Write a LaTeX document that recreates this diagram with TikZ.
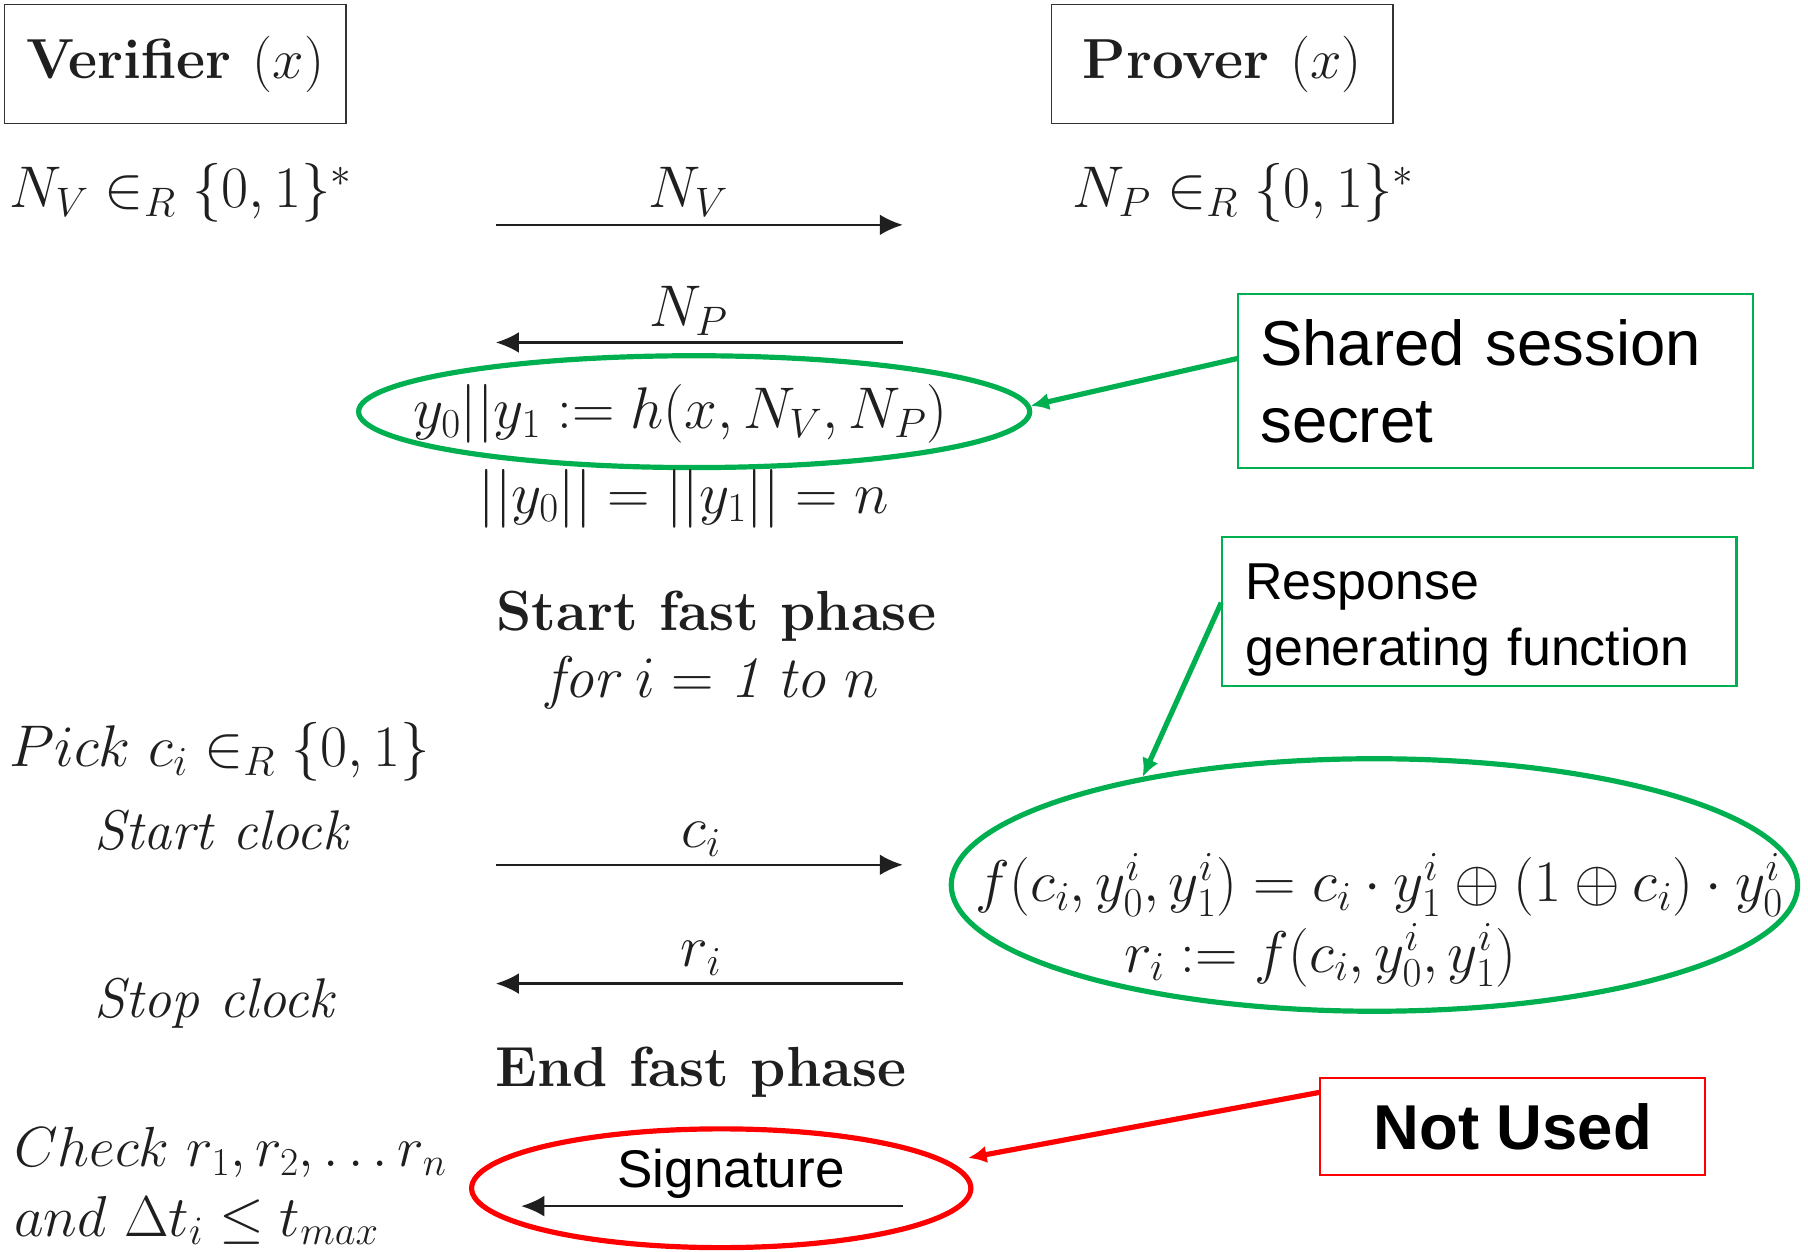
\RequirePackage{fix-cm}
\documentclass[tikz,border=0pt]{standalone}
\usepackage{amsmath}
\usepackage{fontspec}
\newfontfamily\callfont{Liberation Sans}
\usetikzlibrary{shapes.geometric,arrows.meta}

\definecolor{pgreen}{RGB}{0,176,80}
\definecolor{pred}{RGB}{255,0,0}
\definecolor{ink}{gray}{0.12}

\begin{document}
\begin{tikzpicture}[x=1pt,y=-1pt,
  party/.style={draw=black!80, line width=1.5pt, minimum width=296pt,
    minimum height=103pt, inner sep=0pt, text=ink,
    font=\fontsize{49}{58}\selectfont\bfseries},
  mtext/.style={inner sep=0pt, text=ink, font=\fontsize{51}{61}\selectfont},
  itext/.style={inner sep=0pt, text=ink, font=\fontsize{48.5}{58}\selectfont\itshape},
  btext/.style={inner sep=0pt, text=ink, font=\fontsize{49}{58}\selectfont\bfseries},
  msg/.style={draw=ink, line width=2pt, -{Latex[length=20pt,width=18pt]}},
  ovalg/.style={draw=pgreen, line width=4.5pt, ellipse, inner sep=0pt},
  ovalr/.style={draw=pred, line width=4.5pt, ellipse, inner sep=0pt},
  callg/.style={draw=pgreen, line width=4.5pt, -{Latex[length=16pt,width=15pt]}},
  callr/.style={draw=pred, line width=4.5pt, -{Latex[length=16pt,width=15pt]}},
  notebox/.style={draw=pgreen, line width=1.8pt, rectangle, align=left}
]
\useasboundingbox (0,0) rectangle (1568,1085);

% the two parties
\node[party] (verifier) at (152,55.5) {Verifier $(x)$};
\node[party] (prover) at (1060,55.5) {Prover $(x)$};

% nonces
\node[mtext, anchor=base west] (nv) at (8,180) {$N_V \in_R \{0,1\}^*$};
\node[mtext, anchor=base west] (np) at (930,180) {$N_P \in_R \{0,1\}^*$};

\coordinate (v1) at (430,195);  \coordinate (p1) at (783,195);
\coordinate (v2) at (430,297);  \coordinate (p2) at (783,297);
\coordinate (v3) at (430,750);  \coordinate (p3) at (783,750);
\coordinate (v4) at (430,853);  \coordinate (p4) at (783,853);
\coordinate (v5) at (452,1046); \coordinate (p5) at (783,1046);

\draw[msg] (v1) -- (p1);
\node[mtext, anchor=base] (lnv) at (597,180) {$N_V$};
\draw[msg] (p2) -- (v2);
\node[mtext, anchor=base] (lnp) at (597,283) {$N_P$};

% session secret
\node[ovalg, minimum width=582pt, minimum height=97pt] (secretoval) at (602,357) {};
\node[mtext, anchor=base] (hash) at (590,372) {$y_0||y_1 := h(x,N_V,N_P)$};
\node[mtext, anchor=base] (len) at (593,445) {$||y_0|| = ||y_1|| = n$};

% fast phase
\node[btext, anchor=base] (startfp) at (621,547) {Start fast phase};
\node[mtext, anchor=base] (loop) at (618,605) {$\textit{for}\ i = \textit{1}\ \textit{to}\ n$};
\node[mtext, anchor=base west] (pick) at (8,665) {$Pick\ c_i \in_R \{0,1\}$};
\node[itext, anchor=base west] (startclk) at (82,737) {Start clock};
\draw[msg] (v3) -- (p3);
\node[mtext, anchor=base] (lci) at (608,735) {$c_i$};
\draw[msg] (p4) -- (v4);
\node[mtext, anchor=base] (lri) at (608,838) {$r_i$};
\node[itext, anchor=base west] (stopclk) at (82,882) {Stop clock};

% response function
\node[ovalg, minimum width=734pt, minimum height=219pt] (bigoval) at (1192,767.5) {};
\node[mtext, anchor=base] (fdef) at (1196,782)
  {$f(c_i, y_0^i, y_1^i) = c_i \cdot y_1^i \oplus (1 \oplus c_i) \cdot y_0^i$};
\node[mtext, anchor=base] (rdef) at (1145,843) {$r_i := f(c_i, y_0^i, y_1^i)$};

\node[btext, anchor=base] (endfp) at (608,942) {End fast phase};

% final check and signature
\node[mtext, font=\fontsize{49}{59}\selectfont, anchor=base west] (check) at (12,1012)
  {$Check\ r_1, r_2, \ldots r_n$};
\node[mtext, font=\fontsize{50}{60}\selectfont, anchor=base west] (cond) at (12,1072)
  {$and\ \Delta t_i \leq t_{max}$};
\node[ovalr, minimum width=433pt, minimum height=103pt, outer sep=16pt] (sigoval) at (625.5,1030.5) {};
\node[inner sep=0pt, anchor=base, font=\fontsize{46}{55}\selectfont\callfont] (sig) at (634,1030) {Signature};
\draw[msg] (p5) -- (v5);

% callouts
\node[notebox, minimum width=446pt, minimum height=151pt, inner xsep=19pt,
  text width=408pt, font=\fontsize{55}{67}\selectfont\callfont] (shared) at (1297,330.5)
  {Shared session\\secret};
\node[notebox, minimum width=446pt, minimum height=129pt, inner xsep=20pt,
  text width=406pt, font=\fontsize{45}{57}\selectfont\callfont] (response) at (1283,530.5)
  {\rule{0pt}{45pt}Response\\generating function};
\node[draw=pred, line width=1.8pt, minimum width=334pt, minimum height=84pt,
  font=\fontsize{55}{65}\selectfont\callfont\bfseries] (notused) at (1312,977) {Not Used};

\draw[callg] (shared.175) -- (secretoval.1);
\draw[callg] (response.178) -- (bigoval.155);
\draw[callr] (notused.170) -- (sigoval.7);
\end{tikzpicture}
\end{document}
